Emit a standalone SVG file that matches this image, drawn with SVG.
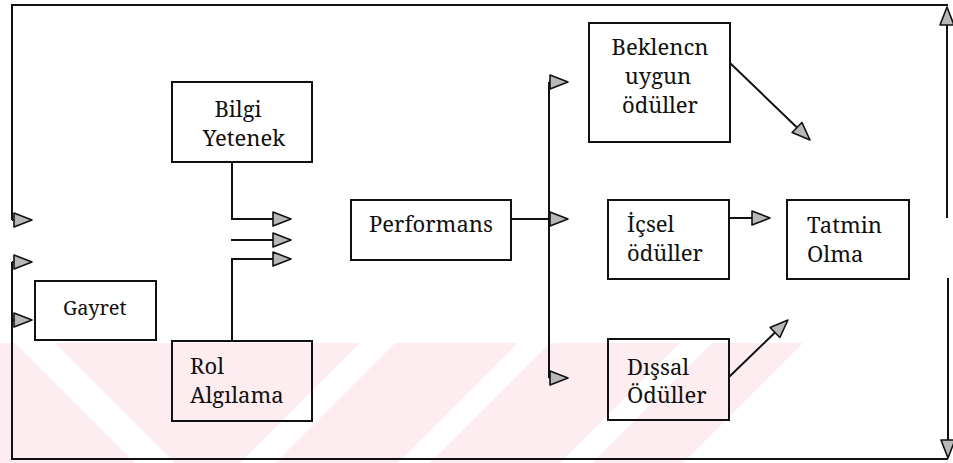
<svg xmlns="http://www.w3.org/2000/svg" width="953" height="463" viewBox="0 0 953 463">
<style>
  .box { fill: none; stroke: #111; stroke-width: 2; }
  .lbl { font-family: 'Noto Serif', 'DejaVu Serif', 'Liberation Serif', serif; font-size: 22px; fill: #111; }
  .mid { text-anchor: middle; }
  .ln { fill: none; stroke: #111; stroke-width: 2; }
  .arr { fill: none; stroke: #111; stroke-width: 2; marker-end: url(#tri); }
  .wm { fill: #fdedf0; }
  .wmw { fill: #ffffff; }
</style>
<defs>
  <marker id="tri" markerUnits="userSpaceOnUse" markerWidth="22" markerHeight="18" refX="1" refY="8" orient="auto" overflow="visible">
    <path d="M1,1 L19,8 L1,15 Z" fill="#b8b8b8" stroke="#111" stroke-width="1.6" stroke-linejoin="round"/>
  </marker>
</defs>
<rect width="953" height="463" fill="#ffffff"/>
<g id="watermark">
  <polygon class="wm" points="0,343 803,343 683,463 0,463"/>
  <polygon class="wmw" points="15,343 55,343 175,463 135,463"/>
  <polygon class="wmw" points="360,343 395,343 275,463 240,463"/>
  <polygon class="wmw" points="518,343 550,343 430,463 398,463"/>
  <polygon class="wmw" points="680,343 712,343 592,463 560,463"/>
</g>
<g id="connectors">
  <path class="ln" d="M948,5 H12 V220"/>
  <path class="arr" d="M12,220 H14"/>
  <path class="arr" d="M947,218 V25"/>
  <path class="ln" d="M948,459 H12 V262"/>
  <path class="arr" d="M12,262 H14"/>
  <path class="arr" d="M12,320 H14"/>
  <path class="arr" d="M948,278 V440"/>
  <path class="arr" d="M232,162 V219 H273"/>
  <path class="arr" d="M231,240 H273"/>
  <path class="arr" d="M232,341 V259 H273"/>
  <path class="ln" d="M511,219 H549"/>
  <path class="ln" d="M549,82 V378"/>
  <path class="arr" d="M549,82 H550"/>
  <path class="arr" d="M549,219 H550"/>
  <path class="arr" d="M549,378 H550"/>
  <path class="arr" d="M729,218 H752"/>
  <path class="arr" d="M730,63 L797,127.5"/>
  <path class="arr" d="M729,377 L775,332.5"/>
</g>
<g id="bilgi">
  <rect class="box" x="172" y="82" width="140" height="80"/>
  <text class="lbl mid" x="238" y="117">Bilgi</text>
  <text class="lbl mid" x="244" y="146">Yetenek</text>
</g>
<g id="gayret">
  <rect class="box" x="35" y="281" width="121" height="59"/>
  <text class="lbl" x="63" y="315" style="font-size:20px">Gayret</text>
</g>
<g id="rol">
  <rect class="box" x="172" y="341" width="140" height="80"/>
  <text class="lbl" x="190" y="374">Rol</text>
  <text class="lbl" x="190" y="403">Algılama</text>
</g>
<g id="performans">
  <rect class="box" x="351" y="200" width="160" height="60"/>
  <text class="lbl" x="369" y="232">Performans</text>
</g>
<g id="beklenen">
  <rect class="box" x="589" y="23" width="141" height="119"/>
  <text class="lbl mid" x="660" y="55">Beklencn</text>
  <text class="lbl mid" x="658" y="84">uygun</text>
  <text class="lbl mid" x="660" y="113">ödüller</text>
</g>
<g id="icsel">
  <rect class="box" x="608" y="200" width="121" height="79"/>
  <text class="lbl" x="627" y="232">İçsel</text>
  <text class="lbl" x="627" y="261">ödüller</text>
</g>
<g id="tatmin">
  <rect class="box" x="787" y="200" width="122" height="79"/>
  <text class="lbl" x="807" y="233">Tatmin</text>
  <text class="lbl" x="807" y="262">Olma</text>
</g>
<g id="dissal">
  <rect class="box" x="608" y="339" width="121" height="81"/>
  <text class="lbl" x="627" y="375">Dışsal</text>
  <text class="lbl" x="627" y="403">Ödüller</text>
</g>
</svg>
